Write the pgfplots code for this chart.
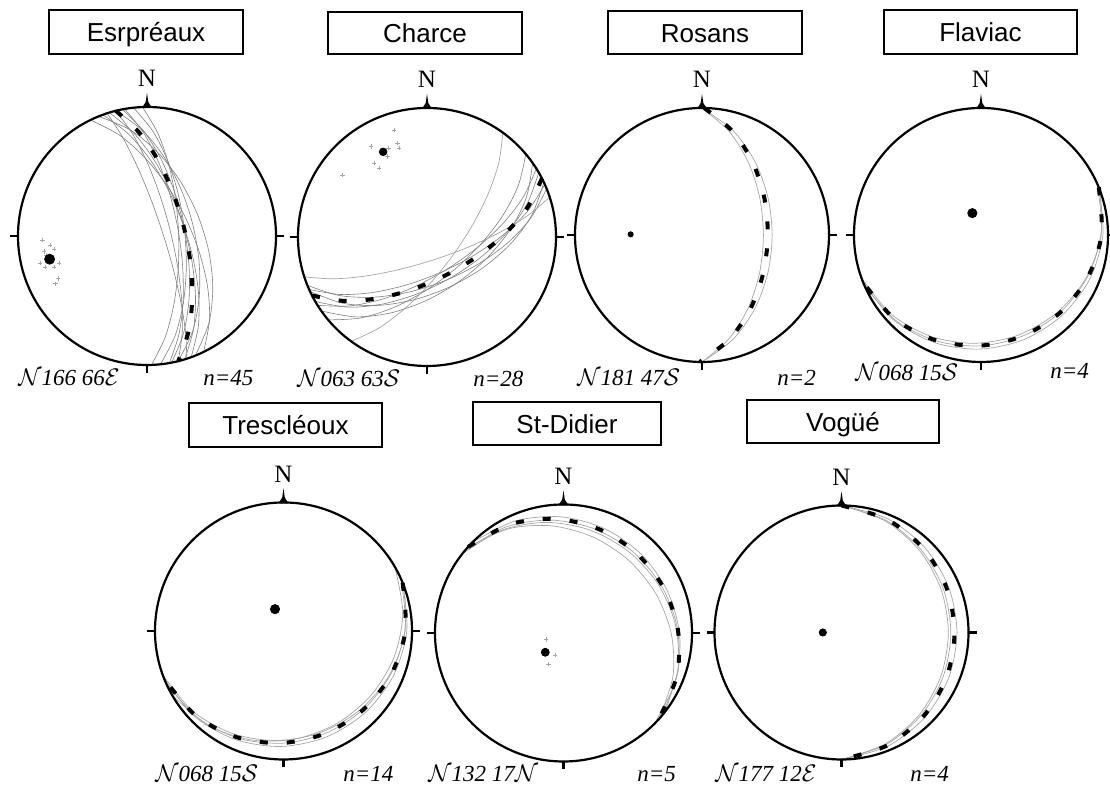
\documentclass[border=0pt]{standalone}
\usepackage{fontspec}
\setmainfont{Liberation Serif}
\newfontfamily\sansf{Liberation Sans}
\usepackage{pgfplots}
\pgfplotsset{compat=1.18}
\pgfplotsset{
  net/.style={scale only axis, width=#1, height=#1, xmin=-1, xmax=1, ymin=-1, ymax=1, hide axis, clip=false, anchor=center},
  gc/.style={color=black!50, line width=0.3pt, smooth, no marks},
  gcl/.style={color=black!35, line width=0.35pt, smooth, no marks},
  mean/.style={black, line width=2pt, dash pattern=on 4pt off 9.5pt, smooth, no marks},
  pole/.style={only marks, mark=*, mark size=#1, black},
  scat/.style={only marks, mark=+, mark size=1.1pt, black!35, mark options={line width=0.25pt}},
}
\tikzset{lab/.style={font=\itshape\fontsize{11.5}{13}\selectfont, inner sep=0pt, anchor=base west}}
\newcommand\netdeco[3]{%
  \draw[line width=1.1pt] (#1,#2) circle[radius={#3*0.5pt}];
  \draw[line width=1.1pt] ({#1-#3},#2) -- ({#1-#3-8},#2);
  \draw[line width=1.1pt] ({#1+#3},#2) -- ({#1+#3+8},#2);
  \draw[line width=1.1pt] (#1,{#2-#3}) -- (#1,{#2-#3-8});
  \fill ({#1-5},{#2+#3-1}) -- ({#1-1.3},{#2+#3+5}) -- (#1,{#2+#3+14}) -- ({#1+1.3},{#2+#3+5}) -- ({#1+5},{#2+#3-1}) -- cycle;
  \node[font=\fontsize{12.5}{14}\selectfont, anchor=base, inner sep=0pt] at (#1,{#2+#3+20}) {N};
}
\newcommand\site[5]{%
  \draw[line width=0.9pt] (#1,#2) rectangle (#3,#4);
  \node[font=\sansf\fontsize{13}{15}\selectfont, anchor=base, inner sep=0pt] at ({(#1+#3)/2},{(#2+#4)/2-10}) {#5};
}
\begin{document}
\begin{tikzpicture}[x=0.5pt,y=0.5pt]
\path[use as bounding box] (0,0) rectangle (1110,785);

% ---------- titles ----------
\site{49}{731}{243}{775}{Esrpréaux}
\site{328}{731}{522}{773}{Charce}
\site{608}{731}{802}{774}{Rosans}
\site{884}{731}{1077}{775}{Flaviac}
\site{189}{338}{382}{382}{Trescléoux}
\site{473}{340}{661}{383}{St-Didier}
\site{747}{342}{939}{385}{Vogüé}

% ---------- net 1 : Esrpreaux ----------
\begin{axis}[net=129pt, at={(73.5pt,274.5pt)}]
\addplot[gc] coordinates {(-.4384,.8988) (-.2150,.7829) (-.0168,.6080) (.1550,.3909) (.2967,.1447) (.4034,-.1185) (.4688,-.3876) (.4846,-.6513) (.4384,-.8988)};
\addplot[gc] coordinates {(-.3420,.9397) (-.1461,.7931) (.0222,.5947) (.1636,.3594) (.2763,.1005) (.3564,-.1702) (.3992,-.4413) (.3979,-.7015) (.3420,-.9397)};
\addplot[gc] coordinates {(-.3746,.9272) (-.1244,.8191) (.0884,.6426) (.2626,.4175) (.3943,.1593) (.4788,-.1179) (.5100,-.4008) (.4796,-.6757) (.3746,-.9272)};
\addplot[gc] coordinates {(-.2419,.9703) (-.0328,.8170) (.1354,.6077) (.2651,.3600) (.3551,.0885) (.4031,-.1934) (.4048,-.4731) (.3546,-.7368) (.2419,-.9703)};
\addplot[gc] coordinates {(-.2419,.9703) (-.1089,.7865) (.0050,.5630) (.1013,.3119) (.1791,.0447) (.2359,-.2279) (.2688,-.4948) (.2731,-.7455) (.2419,-.9703)};
\addplot[gc] coordinates {(-.1736,.9848) (-.0270,.7998) (.0894,.5723) (.1791,.3158) (.2419,.0426) (.2763,-.2356) (.2798,-.5073) (.2480,-.7608) (.1736,-.9848)};
\addplot[gc] coordinates {(-.1045,.9945) (.0502,.8049) (.1654,.5716) (.2458,.3092) (.2924,.0307) (.3046,-.2514) (.2806,-.5248) (.2164,-.7769) (.1045,-.9945)};
\addplot[gc] coordinates {(-.0349,.9994) (.0844,.7957) (.1682,.5543) (.2213,.2879) (.2455,.0086) (.2409,-.2717) (.2064,-.5413) (.1398,-.7879) (.0349,-.9994)};
\addplot[gc] coordinates {(-.3090,.9511) (-.1895,.7664) (-.0782,.5455) (.0248,.2993) (.1172,.0381) (.1960,-.2275) (.2574,-.4873) (.2971,-.7314) (.3090,-.9511)};
\addplot[gc] coordinates {(-.2924,.9563) (-.1044,.7997) (.0532,.5927) (.1822,.3504) (.2812,.0860) (.3470,-.1886) (.3756,-.4615) (.3606,-.7213) (.2924,-.9563)};
\addplot[gc] coordinates {(-.1908,.9816) (-.0202,.8063) (.1149,.5839) (.2178,.3294) (.2886,.0561) (.3254,-.2238) (.3253,-.4983) (.2832,-.7551) (.1908,-.9816)};
\addplot[mean] coordinates {(-.2419,.9703) (-.0624,.8041) (.0842,.5890) (.2003,.3403) (.2853,.0711) (.3367,-.2065) (.3508,-.4806) (.3224,-.7393) (.2419,-.9703)};
\addplot[scat] coordinates {(-.81,-.03) (-.75,-.07) (-.72,-.10) (-.83,-.21) (-.79,-.24) (-.72,-.24) (-.69,-.33) (-.71,-.37) (-.68,-.21) (-.78,-.15) (-.73,-.17) (-.80,-.12)};
\addplot[pole=2.5pt] coordinates {(-.755,-.18)};
\end{axis}
\netdeco{147}{549}{129}
\node[lab] at (18,399) {$\mathcal{N}$166 66$\mathcal{E}$};
\node[lab] at (203,399) {n=45};

% ---------- net 2 : Charce ----------
\begin{axis}[net=129pt, at={(213.5pt,274pt)}]
\addplot[gc] coordinates {(.8660,.5) (.7763,.2568) (.6215,.0374) (.4192,-.1556) (.1830,-.3170) (-.0748,-.4408) (-.3431,-.5196) (-.6105,-.5440) (-.8660,-.5)};
\addplot[gc] coordinates {(.9135,.4067) (.7810,.2010) (.5947,.0194) (.3699,-.1382) (.1196,-.2686) (-.1449,-.3674) (-.4123,-.4290) (-.6720,-.4458) (-.9135,-.4067)};
\addplot[gc] coordinates {(.8480,.5299) (.7454,.3078) (.5862,.1020) (.3856,-.0853) (.1558,-.2493) (-.0924,-.3839) (-.3486,-.4822) (-.6034,-.5350) (-.8480,-.5299)};
\addplot[gc] coordinates {(.9272,.3746) (.8045,.1462) (.6207,-.0495) (.3934,-.2124) (.1371,-.3394) (-.1354,-.4260) (-.4121,-.4667) (-.6803,-.4536) (-.9272,-.3746)};
\addplot[gcl] coordinates {(.9511,.3090) (.7769,.1634) (.5620,.0342) (.3183,-.0793) (.0570,-.1756) (-.2109,-.2513) (-.4748,-.3026) (-.7247,-.3244) (-.9511,-.3090)};
\addplot[gc] coordinates {(.7660,.6428) (.7075,.3979) (.5858,.1634) (.4168,-.0557) (.2122,-.2529) (-.0174,-.4201) (-.2626,-.5486) (-.5147,-.6277) (-.7660,-.6428)};
\addplot[gcl] coordinates {(.5878,.8090) (.5565,.5750) (.4738,.3332) (.3516,.0906) (.1987,-.1444) (.0224,-.3624) (-.1706,-.5536) (-.3749,-.7070) (-.5878,-.8090)};
\addplot[gc] coordinates {(.8192,.5736) (.7702,.3055) (.6461,.0584) (.4658,-.1619) (.2439,-.3484) (-.0072,-.4931) (-.2759,-.5872) (-.5506,-.6193) (-.8192,-.5736)};
\addplot[gc] coordinates {(.9063,.4226) (.8115,.1671) (.6464,-.0547) (.4306,-.2403) (.1797,-.3854) (-.0926,-.4843) (-.3736,-.5303) (-.6497,-.5143) (-.9063,-.4226)};
\addplot[mean] coordinates {(.8910,.4540) (.7789,.2285) (.6075,.0274) (.3935,-.1480) (.1499,-.2941) (-.1115,-.4054) (-.3793,-.4754) (-.6427,-.4959) (-.8910,-.4540)};
\addplot[scat] coordinates {(-.436,.701) (-.255,.830) (-.229,.727) (-.41,.572) (-.371,.534) (-.655,.482) (-.307,.624) (-.216,.688) (-.30,.69)};
\addplot[pole=1.9pt] coordinates {(-.34,.66)};
\end{axis}
\netdeco{427}{548}{129}
\node[lab] at (297,398) {$\mathcal{N}$063 63$\mathcal{S}$};
\node[lab] at (473,398) {n=28};

% ---------- net 3 : Rosans ----------
\begin{axis}[net=127pt, at={(351pt,275pt)}]
\addplot[gcl] coordinates {(0,1) (.2447,.8212) (.4165,.5790) (.5186,.2987) (.5525,0) (.5186,-.2987) (.4165,-.5790) (.2447,-.8212) (0,-1)};
\addplot[gcl] coordinates {(0,1) (.2163,.8125) (.3661,.5695) (.4545,.2929) (.4837,0) (.4545,-.2929) (.3661,-.5695) (.2163,-.8125) (0,-1)};
\addplot[mean] coordinates {(.0175,.9998) (.2450,.8124) (.4014,.5671) (.4918,.2870) (.5182,-.0091) (.4814,-.3040) (.3814,-.5809) (.2164,-.8204) (-.0175,-.9998)};
\addplot[scat] coordinates {(-.562,.005)};
\addplot[pole=1.3pt] coordinates {(-.562,.005)};
\end{axis}
\netdeco{702}{550}{127}
\node[lab] at (577,399) {$\mathcal{N}$181 47$\mathcal{S}$};
\node[lab] at (777,399) {n=2};

% ---------- net 4 : Flaviac ----------
\begin{axis}[net=127pt, at={(490.5pt,275pt)}]
\addplot[gcl] coordinates {(.9272,.3746) (.9595,-.0010) (.8540,-.3515) (.6351,-.6362) (.3334,-.8252) (-.0149,-.8988) (-.3702,-.8461) (-.6895,-.6672) (-.9272,-.3746)};
\addplot[gcl] coordinates {(.9397,.3420) (.9421,-.0265) (.8154,-.3584) (.5872,-.6206) (.2877,-.7905) (-.0510,-.8528) (-.3944,-.7986) (-.7047,-.6259) (-.9397,-.3420)};
\addplot[gcl] coordinates {(.9135,.4067) (.9485,.0363) (.8493,-.3092) (.6401,-.5926) (.3501,-.7864) (.0119,-.8722) (-.3385,-.8380) (-.6617,-.6805) (-.9135,-.4067)};
\addplot[mean] coordinates {(.9272,.3746) (.9492,.0032) (.8380,-.3387) (.6191,-.6145) (.3225,-.7982) (-.0185,-.8721) (-.3676,-.8257) (-.6850,-.6570) (-.9272,-.3746)};
\addplot[pole=2.3pt] coordinates {(-.068,.172)};
\end{axis}
\netdeco{981}{550}{127}
\node[lab] at (855,404) {$\mathcal{N}$068 15$\mathcal{S}$};
\node[lab] at (1050,406) {n=4};

% ---------- net 5 : Trescleoux ----------
\begin{axis}[net=128.5pt, at={(141.75pt,77pt)}]
\addplot[gcl] coordinates {(.9272,.3746) (.9595,-.0010) (.8540,-.3515) (.6351,-.6362) (.3334,-.8252) (-.0149,-.8988) (-.3702,-.8461) (-.6895,-.6672) (-.9272,-.3746)};
\addplot[gcl] coordinates {(.9397,.3420) (.9421,-.0265) (.8154,-.3584) (.5872,-.6206) (.2877,-.7905) (-.0510,-.8528) (-.3944,-.7986) (-.7047,-.6259) (-.9397,-.3420)};
\addplot[gcl] coordinates {(.9135,.4067) (.9485,.0363) (.8493,-.3092) (.6401,-.5926) (.3501,-.7864) (.0119,-.8722) (-.3385,-.8380) (-.6617,-.6805) (-.9135,-.4067)};
\addplot[gcl] coordinates {(.8660,.5) (.9287,.1388) (.8595,-.2074) (.6798,-.5024) (.4157,-.7199) (.0952,-.8400) (-.2501,-.8480) (-.5845,-.7350) (-.8660,-.5)};
\addplot[mean] coordinates {(.9272,.3746) (.9492,.0032) (.8380,-.3387) (.6191,-.6145) (.3225,-.7982) (-.0185,-.8721) (-.3676,-.8257) (-.6850,-.6570) (-.9272,-.3746)};
\addplot[pole=2.3pt] coordinates {(-.066,.170)};
\end{axis}
\netdeco{283.5}{154}{128.5}
\node[lab] at (155,3) {$\mathcal{N}$068 15$\mathcal{S}$};
\node[lab] at (343,3) {n=14};

% ---------- net 6 : St-Didier ----------
\begin{axis}[net=128.5pt, at={(281.75pt,76pt)}]
\addplot[gcl] coordinates {(-.7880,.6157) (-.4764,.8014) (-.1329,.8606) (.2031,.8018) (.4995,.6392) (.7289,.3910) (.8671,.0792) (.8928,-.2684) (.7880,-.6157)};
\addplot[gcl] coordinates {(-.7071,.7071) (-.3739,.8725) (-.0157,.9037) (.3238,.8100) (.6087,.6087) (.8100,.3238) (.9037,-.0157) (.8725,-.3739) (.7071,-.7071)};
\addplot[gcl] coordinates {(-.7660,.6428) (-.4480,.8253) (-.0990,.8785) (.2397,.8106) (.5344,.6368) (.7567,.3768) (.8824,.0549) (.8906,-.2979) (.7660,-.6428)};
\addplot[gcl] coordinates {(-.7431,.6691) (-.4217,.8127) (-.0849,.8330) (.2339,.7449) (.5085,.5647) (.7163,.3105) (.8373,.0026) (.8523,-.3345) (.7431,-.6691)};
\addplot[mean] coordinates {(-.7431,.6691) (-.4189,.8442) (-.0664,.8882) (.2722,.8098) (.5629,.6251) (.7770,.3554) (.8902,.0268) (.8833,-.3284) (.7431,-.6691)};
\addplot[scat] coordinates {(-.135,-.05) (-.065,-.17) (-.117,-.24)};
\addplot[pole=2pt] coordinates {(-.142,-.15)};
\end{axis}
\netdeco{563.5}{152}{128.5}
\node[lab] at (428,3) {$\mathcal{N}$132 17$\mathcal{N}$};
\node[lab] at (637,3) {n=5};

% ---------- net 7 : Vogue ----------
\begin{axis}[net=127pt, at={(420.75pt,76.25pt)}]
\addplot[gcl] coordinates {(0,1) (.3526,.8813) (.6279,.6501) (.8017,.3438) (.8609,0) (.8017,-.3438) (.6279,-.6501) (.3526,-.8813) (0,-1)};
\addplot[gcl] coordinates {(0,1) (.3471,.8762) (.6156,.6437) (.7840,.3396) (.8412,0) (.7840,-.3396) (.6156,-.6437) (.3471,-.8762) (0,-1)};
\addplot[gcl] coordinates {(0,1) (.3650,.8947) (.6572,.6673) (.8446,.3553) (.9091,0) (.8446,-.3553) (.6572,-.6673) (.3650,-.8947) (0,-1)};
\addplot[mean] coordinates {(0,1) (.3603,.8892) (.6458,.6602) (.8277,.3505) (.8900,0) (.8277,-.3505) (.6458,-.6602) (.3603,-.8892) (0,-1)};
\addplot[pole=1.8pt] coordinates {(-.147,0)};
\end{axis}
\netdeco{841.5}{152.5}{127}
\node[lab] at (715,3) {$\mathcal{N}$177 12$\mathcal{E}$};
\node[lab] at (910,3) {n=4};
\end{tikzpicture}
\end{document}
